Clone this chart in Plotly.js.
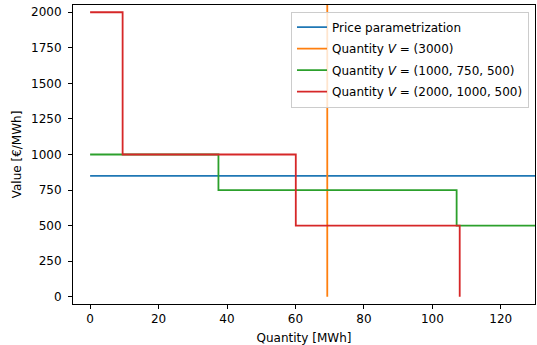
<!DOCTYPE html>
<html>
<head>
<meta charset="utf-8">
<script src="https://cdn.plot.ly/plotly-3.0.1.min.js"></script>
<style>html,body{margin:0;padding:0;background:#fff;}#chart{width:537px;height:345px;}</style>
</head>
<body>
<div id="chart"></div>
<script>
// Series names
const seriesNames = [
  "Price parametrization",
  "Quantity <i>V</i> = (3000)",
  "Quantity <i>V</i> = (1000, 750, 500)",
  "Quantity <i>V</i> = (2000, 1000, 500)"
];
const seriesColors = ["#1f77b4", "#ff7f0e", "#2ca02c", "#d62728"];

// Price parametrization (flat)
const priceX = [0, 150];
const priceY = [850, 850];

// Quantity V = (3000): single step
const q1X = [69.3, 69.3];
const q1Y = [3000, 0];

// Quantity V = (1000, 750, 500): cumulative breakpoints (hv steps)
const q2X = [0, 37.5, 107.1, 150];
const q2Y = [1000, 750, 500, 500];

// Quantity V = (2000, 1000, 500): cumulative breakpoints (hv steps)
const q3X = [0, 9.5, 60.1, 108.0];
const q3Y = [2000, 1000, 500, 0];

const xTicks = [0, 20, 40, 60, 80, 100, 120];
const yTicks = [0, 250, 500, 750, 1000, 1250, 1500, 1750, 2000];

const font = {family: "DejaVu Sans", size: 12, color: "#000"};
const lw = 1.8;

const traces = [
  {x: priceX, y: priceY, mode: "lines", name: seriesNames[0], legendgroup: "a", line: {color: seriesColors[0], width: lw}},
  {x: q1X, y: q1Y, mode: "lines", name: seriesNames[1], legendgroup: "b", line: {color: seriesColors[1], width: lw}},
  {x: q2X, y: q2Y, mode: "lines", name: seriesNames[2], legendgroup: "c", line: {color: seriesColors[2], width: lw, shape: "hv"}},
  {x: q3X, y: q3Y, mode: "lines", name: seriesNames[3], legendgroup: "d", line: {color: seriesColors[3], width: lw, shape: "hv"}}
];

const axisCommon = {
  showline: true, mirror: true, linecolor: "#000", linewidth: 1,
  ticks: "outside", ticklen: 4, tickcolor: "#000", tickwidth: 1,
  showgrid: false, zeroline: false, tickfont: font
};

const layout = {
  width: 537, height: 345,
  margin: {l: 73, r: 2, t: 5, b: 41},
  paper_bgcolor: "#fff", plot_bgcolor: "#fff",
  font: font,
  showlegend: true,
  legend: {
    x: 0.987, y: 0.978, xanchor: "right", yanchor: "top",
    bgcolor: "rgba(255,255,255,0.8)", bordercolor: "#cccccc", borderwidth: 1,
    font: font, traceorder: "grouped", tracegroupgap: 2.5, itemwidth: 30
  },
  xaxis: Object.assign({}, axisCommon, {
    range: [-5, 130], tickvals: xTicks, ticktext: xTicks.map(String),
    title: {text: "Quantity [MWh]", font: font, standoff: 8}
  }),
  yaxis: Object.assign({}, axisCommon, {
    range: [-51, 2051], tickvals: yTicks, ticktext: yTicks.map(String),
    ticklabelstandoff: 4,
    title: {text: "Value [€/MWh]", font: font, standoff: 6}
  })
};

Plotly.newPlot("chart", traces, layout, {staticPlot: true, displayModeBar: false});
</script>
</body>
</html>
